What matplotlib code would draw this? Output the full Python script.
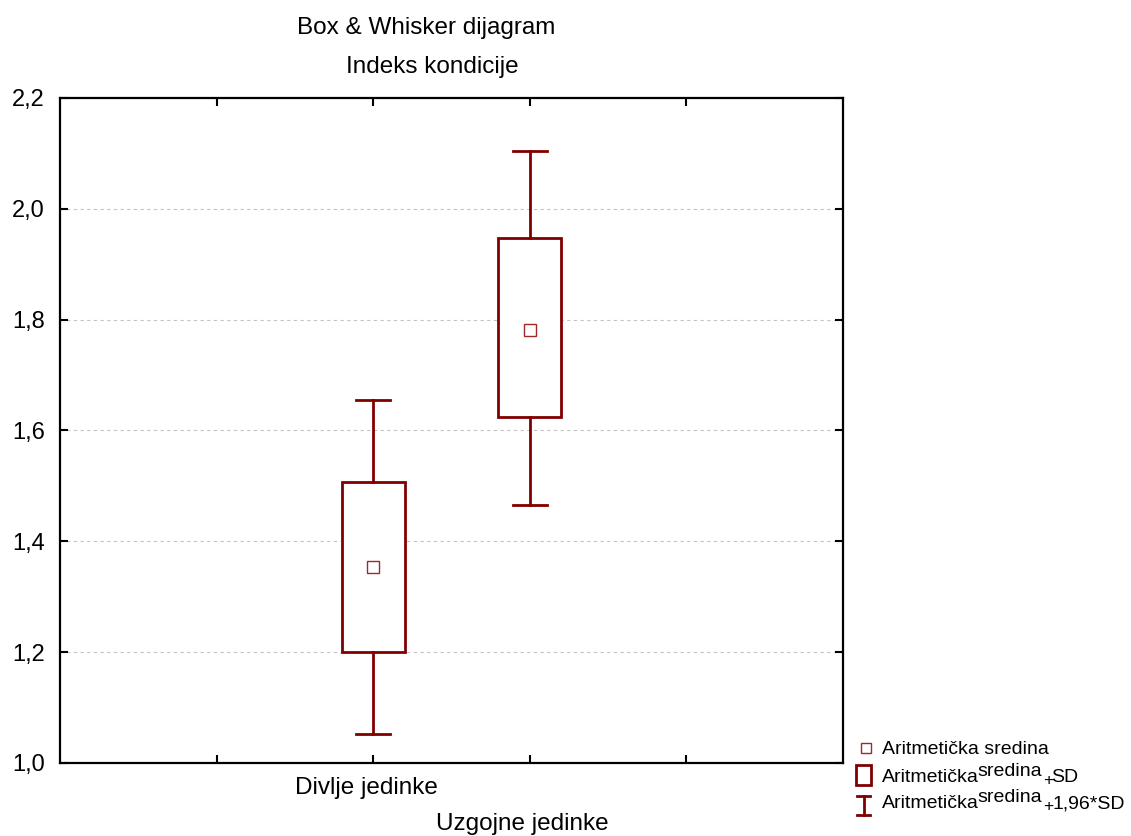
import numpy as np
import matplotlib
matplotlib.use('Agg')
import matplotlib.pyplot as plt
from matplotlib.lines import Line2D
from matplotlib.patches import Rectangle

# data
groups = ['Divlje jedinke', 'Uzgojne jedinke']
means = [1.354, 1.781]
box_lo = [1.200, 1.624]     # mean - SD
box_hi = [1.507, 1.948]     # mean + SD
whis_lo = [1.052, 1.466]    # mean - 1.96*SD
whis_hi = [1.655, 2.105]    # mean + 1.96*SD
positions = [2, 3]
yticks = [1.0, 1.2, 1.4, 1.6, 1.8, 2.0, 2.2]

RED = '#800000'
W, H = 1131, 836

plt.rcParams['font.family'] = ['Liberation Sans', 'DejaVu Sans']

fig = plt.figure(figsize=(W / 100, H / 100), dpi=100)
ax = fig.add_axes([60 / W, 1 - 763 / H, (843 - 60) / W, (763 - 98) / H])

stats = []
for i in range(len(groups)):
    stats.append({'med': means[i], 'q1': box_lo[i], 'q3': box_hi[i],
                  'whislo': whis_lo[i], 'whishi': whis_hi[i],
                  'mean': means[i], 'fliers': []})

ax.bxp(stats, positions=positions, widths=0.4, capwidths=0.22,
       showmeans=True, showfliers=False, patch_artist=True,
       boxprops=dict(facecolor='white', edgecolor=RED, linewidth=2.0),
       whiskerprops=dict(color=RED, linewidth=2.0),
       capprops=dict(color=RED, linewidth=2.0),
       medianprops=dict(linewidth=0),
       meanprops=dict(marker='s', markersize=8, markerfacecolor='white',
                      markeredgecolor='#9b2a2a', markeredgewidth=1.0),
       zorder=3)

ax.set_xlim(0, 5)
ax.set_ylim(1.0, 2.2)
ax.set_xticks([1, 2, 3, 4])
ax.set_xticklabels([])
ax.set_yticks(yticks)
ax.set_yticklabels([('%.1f' % v).replace('.', ',') for v in yticks], fontsize=17)
ax.tick_params(axis='both', direction='in', length=6, width=1.5,
               top=True, right=True, pad=8)
ax.tick_params(axis='y', pad=11)
for sp in ax.spines.values():
    sp.set_linewidth(1.6)

ax.grid(axis='y', color='#c4c4c4', linestyle=(0, (3, 3)), linewidth=0.8, zorder=0)
ax.set_axisbelow(True)

# staggered category labels
ax.text(positions[0] - 0.04, 1 - 788 / 665 + 98 / 665, groups[0],
        transform=ax.get_xaxis_transform(), ha='center', va='center', fontsize=17.5)
ax.text(positions[1] - 0.05, 1 - 824 / 665 + 98 / 665, groups[1],
        transform=ax.get_xaxis_transform(), ha='center', va='center', fontsize=17.5)

# titles
fig.text(426 / W, 1 - 28 / H, 'Box & Whisker dijagram', ha='center', va='center', fontsize=17.5)
fig.text(432 / W, 1 - 67 / H, 'Indeks kondicije', ha='center', va='center', fontsize=17.5)

# legend drawn by hand, Statistica style
def px(x, y):
    return x / W, 1 - y / H

fs = 14
fig.add_artist(Line2D([866 / W], [1 - 748 / H], marker='s', markersize=7.5,
                      markerfacecolor='white', markeredgecolor='#9b2a2a',
                      markeredgewidth=1.0, transform=fig.transFigure))
fig.text(*px(882, 749), 'Aritmetička sredina', ha='left', va='center', fontsize=fs)

x0, y0 = px(856, 785)
fig.add_artist(Rectangle((x0, y0), 15 / W, 20 / H, facecolor='white',
                         edgecolor=RED, linewidth=2.0, transform=fig.transFigure))
fig.text(*px(882, 778), 'Aritmetička', ha='left', va='center', fontsize=fs)
fig.text(*px(977, 772), 'sredina', ha='left', va='center', fontsize=fs)
fig.text(*px(1043, 781), '+', ha='left', va='center', fontsize=fs * 0.9)
fig.text(*px(1051, 778), 'SD', ha='left', va='center', fontsize=fs)

xi = 863.5 / W
fig.add_artist(Line2D([xi, xi], [1 - 796 / H, 1 - 815 / H], color=RED, linewidth=2.0,
                      transform=fig.transFigure))
for yy in (796, 815):
    fig.add_artist(Line2D([857 / W, 870 / W], [1 - yy / H, 1 - yy / H], color=RED,
                          linewidth=2.0, transform=fig.transFigure))
fig.text(*px(882, 804), 'Aritmetička', ha='left', va='center', fontsize=fs)
fig.text(*px(977, 798), 'sredina', ha='left', va='center', fontsize=fs)
fig.text(*px(1043, 807), '+', ha='left', va='center', fontsize=fs * 0.9)
fig.text(*px(1053, 804), '1,96*SD', ha='left', va='center', fontsize=fs)

fig.savefig('out.png', dpi=100)
